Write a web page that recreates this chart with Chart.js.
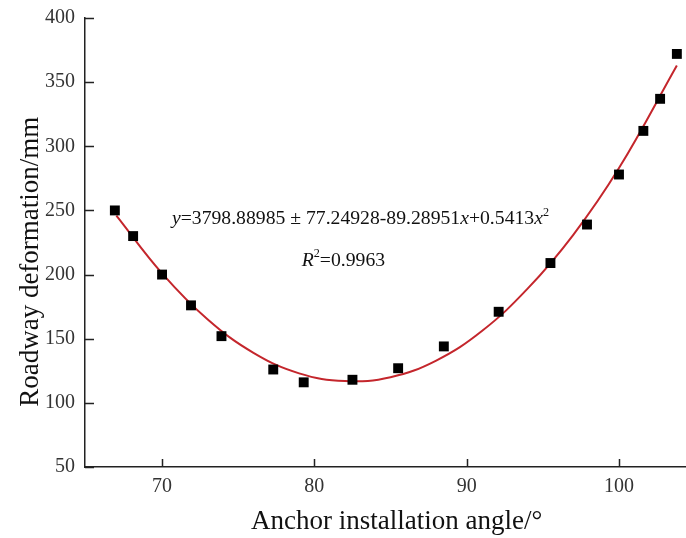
<!DOCTYPE html>
<html>
<head>
<meta charset="utf-8">
<script src="https://cdn.jsdelivr.net/npm/chart.js@4"></script>
<style>
  html, body { margin: 0; padding: 0; background: #fff; }
  #wrap { width: 686px; height: 538px; }
</style>
</head>
<body>
<div id="wrap"><canvas id="chart"></canvas></div>
<script>
// measured points
const angles = [66.9, 68.1, 70.0, 71.9, 73.9, 77.3, 79.3, 82.5, 85.5, 88.5, 92.1, 95.5, 97.9, 100.0, 101.6, 102.7, 103.8];
const deformation = [250, 230, 200, 176, 152, 126, 116, 118, 127, 144, 171, 209, 239, 278, 312, 337, 372];

// fitted curve
const fitX = [67, 70, 73, 76, 79, 82, 85, 88, 91, 94, 97, 100, 103.8];
const fitY = [246, 201, 165, 139, 123, 117, 120, 133, 156, 189, 231, 283, 363];

const xTicks = [70, 80, 90, 100];
const yTicks = [50, 100, 150, 200, 250, 300, 350, 400];

const serif = "'Liberation Serif', 'Times New Roman', serif";

// no automatic padding around the plot
function noPad(s) {
    s.paddingLeft = 0;
    s.paddingRight = 0;
    s.paddingTop = 0;
    s.paddingBottom = 0;
}

// inward tick marks, axis titles and the equation
const extras = {
    id: 'extras',
    afterDraw(chart) {
        const ctx = chart.ctx;
        const xs = chart.scales.x, ys = chart.scales.y;
        const area = chart.chartArea;
        ctx.save();
        ctx.strokeStyle = '#222';
        ctx.lineWidth = 1.5;
        ctx.beginPath();
        xTicks.forEach(v => {
            const px = Math.round(xs.getPixelForValue(v)) + 0.5;
            ctx.moveTo(px, area.bottom);
            ctx.lineTo(px, area.bottom - 8);
        });
        yTicks.forEach(v => {
            const py = Math.round(ys.getPixelForValue(v)) + 0.5;
            ctx.moveTo(area.left, py);
            ctx.lineTo(area.left + 9, py);
        });
        ctx.stroke();

        ctx.fillStyle = '#111';
        ctx.textBaseline = 'alphabetic';

        // axis titles
        ctx.font = '27px ' + serif;
        ctx.textAlign = 'center';
        ctx.fillText('Anchor installation angle/\u00b0', xs.getPixelForValue(85.4), area.bottom + 62);
        ctx.save();
        ctx.translate(area.left - 47, ys.getPixelForValue(210));
        ctx.rotate(-Math.PI / 2);
        ctx.fillText('Roadway deformation/mm', 0, 0);
        ctx.restore();

        // equation
        ctx.textAlign = 'left';
        const size = 19.7;
        const drawParts = (parts, x, y) => {
            parts.forEach(p => {
                const fs = p.sup ? size * 0.62 : size;
                ctx.font = (p.it ? 'italic ' : '') + fs + 'px ' + serif;
                ctx.fillText(p.t, x, p.sup ? y - size * 0.42 : y);
                x += ctx.measureText(p.t).width;
            });
        };
        drawParts([
            {t: 'y', it: true},
            {t: '=3798.88985 \u00b1 77.24928-89.28951'},
            {t: 'x', it: true},
            {t: '+0.5413'},
            {t: 'x', it: true},
            {t: '2', sup: true}
        ], xs.getPixelForValue(70.65), ys.getPixelForValue(239.5));
        drawParts([
            {t: 'R', it: true},
            {t: '2', sup: true},
            {t: '=0.9963'}
        ], xs.getPixelForValue(79.17), ys.getPixelForValue(207));
        ctx.restore();
    }
};

const ctx = document.getElementById('chart').getContext('2d');
new Chart(ctx, {
    type: 'scatter',
    data: {
        datasets: [
            {
                label: 'Fit',
                type: 'line',
                data: fitX.map((x, i) => ({x: x, y: fitY[i]})),
                borderColor: '#c4262c',
                borderWidth: 2,
                pointRadius: 0,
                tension: 0.4,
                fill: false,
                order: 2
            },
            {
                label: 'Roadway deformation',
                data: angles.map((x, i) => ({x: x, y: deformation[i]})),
                pointStyle: 'rect',
                pointRadius: 7,
                backgroundColor: '#000',
                borderColor: '#000',
                borderWidth: 0,
                order: 1
            }
        ]
    },
    options: {
        responsive: true,
        maintainAspectRatio: false,
        animation: false,
        layout: { autoPadding: false, padding: { top: 18, right: 0, left: 0, bottom: 0 } },
        plugins: {
            legend: { display: false },
            tooltip: { enabled: false }
        },
        scales: {
            x: {
                type: 'linear',
                min: 64.94,
                max: 104.4,
                afterBuildTicks: s => { s.ticks = xTicks.map(v => ({value: v})); },
                afterFit: s => { s.height = 71; noPad(s); },
                grid: { display: true, drawOnChartArea: false, drawTicks: false },
                border: { color: '#222', width: 1.5 },
                ticks: {
                    padding: 8,
                    color: '#333',
                    font: { family: serif, size: 20 }
                }
            },
            y: {
                min: 50,
                max: 400,
                afterBuildTicks: s => { s.ticks = yTicks.map(v => ({value: v})); },
                afterFit: s => { s.width = 85; noPad(s); },
                grid: { display: true, drawOnChartArea: false, drawTicks: false },
                border: { color: '#222', width: 1.5 },
                ticks: {
                    padding: 10,
                    color: '#333',
                    font: { family: serif, size: 20 }
                }
            }
        }
    },
    plugins: [extras]
});
</script>
</body>
</html>
